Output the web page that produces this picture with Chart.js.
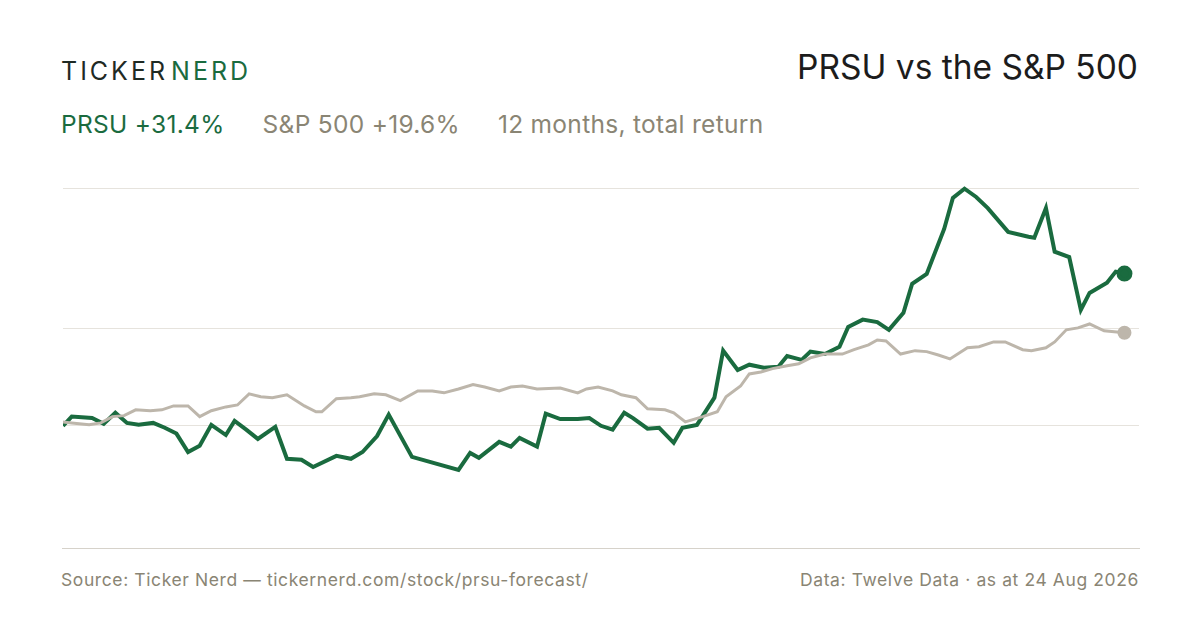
<!DOCTYPE html>
<html><head><meta charset="utf-8">
<script src="https://cdn.jsdelivr.net/npm/chart.js@4"></script>
<style>
body{margin:0;width:1200px;height:630px;background:#fff;font-family:Inter,"Noto Sans",sans-serif;position:relative;overflow:hidden}
.a{position:absolute;white-space:nowrap}
</style></head><body>
<div class="a" style="left:61px;top:56px;font-size:25px;letter-spacing:3px;color:#1f2a24">TICKER <span style="color:#1a6b3f;margin-left:-7px">NERD</span></div>
<div class="a" style="right:62px;top:47px;font-size:33.5px;color:#1c1c1c">PRSU vs the S&amp;P 500</div>
<div class="a" style="left:61px;top:109px;font-size:24.5px;letter-spacing:0.3px;color:#8a8574"><span style="color:#1a6b3f">PRSU +31.4%</span><span style="margin-left:38px">S&amp;P 500 +19.6%</span><span style="margin-left:38px">12 months, total return</span></div>
<div class="a" style="left:62px;top:548px;width:1078px;height:1px;background:#d6d2ca"></div>
<div class="a" style="left:61px;top:569px;font-size:17.5px;letter-spacing:0.6px;color:#8a8574">Source: Ticker Nerd — tickernerd.com/stock/prsu-forecast/</div>
<div class="a" style="right:61px;top:569px;font-size:17.5px;letter-spacing:0.6px;color:#8a8574">Data: Twelve Data · as at 24 Aug 2026</div>
<div class="a" style="left:53px;top:169px;width:1096px;height:389px"><canvas id="c"></canvas></div>
<script>
const prsuDays=[0,3,10,14,18,22,26,31,35,39,43,47,51,56,59,63,67,73,77,82,86,94,99,103,108,112,120,136,140,143,150,154,157,163,166,171,177,181,185,189,193,196,201,205,210,213,218,224,227,232,236,241,246,249,254,257,262,267,270,275,280,284,289,292,297,303,306,310,314,318,325,332,334,338,341,346,350,353,359,362,365];
const prsuVals=[0,1.9,1.6,0.4,2.7,0.6,0.2,0.6,-0.4,-1.6,-5.4,-4.1,0.2,-1.9,1.0,-0.8,-2.7,-0.2,-6.8,-7.0,-8.5,-6.2,-6.8,-5.4,-2.1,2.3,-6.4,-9.1,-5.6,-6.6,-3.3,-4.3,-2.5,-4.3,2.5,1.4,1.4,1.6,0,-0.8,2.7,1.6,-0.6,-0.4,-3.5,-0.4,0.2,5.8,15.5,11.5,12.6,12.0,12.2,14.4,13.6,15.3,14.8,16.3,20.4,21.9,21.4,19.8,23.3,29.3,31.3,40.6,47.0,48.9,47.2,44.9,40.0,39.0,38.8,44.9,35.9,34.8,23.9,27.4,29.5,31.8,31.4];
const spxDays=[0,3,9,13,17,21,25,30,34,38,43,47,51,56,60,64,68,72,77,83,87,89,94,99,102,107,111,116,122,127,131,136,141,145,150,154,158,163,171,177,180,184,189,192,197,201,207,210,214,220,225,228,233,236,240,244,249,253,257,262,268,272,277,280,283,288,293,297,301,305,311,315,320,324,330,333,338,341,345,349,353,358,365];
const spxVals=[0.8,0.6,0.2,0.6,1.9,2.1,3.3,3.1,3.3,4.1,4.1,1.9,3.1,3.9,4.3,6.6,6.0,5.8,6.4,4.1,2.9,2.9,5.6,5.8,6.0,6.6,6.4,5.2,7.2,7.2,6.8,7.6,8.5,8.0,7.2,8.0,8.2,7.6,7.8,6.8,7.6,8.0,7.2,6.4,5.8,3.5,3.3,2.7,0.8,1.9,2.9,6.0,8.2,10.7,11.1,11.8,12.4,12.8,14.0,14.8,14.8,15.7,16.7,17.7,17.5,14.8,15.5,15.3,14.6,13.8,16.1,16.3,17.3,17.3,15.7,15.5,16.1,17.3,19.8,20.2,21.0,19.6,19.2];
const gridVals=[0,20,48.9];
const zip=(d,v)=>d.map((x,i)=>({x,y:v[i]}));
const endR=(n,r)=>ctx=>ctx.dataIndex===n-1?r:0;
new Chart(document.getElementById('c'),{type:'line',
data:{datasets:[
{data:zip(spxDays,spxVals),borderColor:'#bdb6ab',backgroundColor:'#bdb6ab',borderWidth:3,pointRadius:endR(spxDays.length,5.5),tension:0},
{data:zip(prsuDays,prsuVals),borderColor:'#1a6b3f',backgroundColor:'#1a6b3f',borderWidth:4,pointRadius:endR(prsuDays.length,6),tension:0}]},
options:{responsive:true,maintainAspectRatio:false,animation:false,layout:{padding:0},
plugins:{legend:{display:false},tooltip:{enabled:false}},
scales:{x:{type:'linear',min:0,max:370,display:false},
y:{min:-25.2,max:50.9,afterBuildTicks:a=>{a.ticks=gridVals.map(v=>({value:v}))},
grid:{color:'#e6e3dd',drawTicks:false},border:{display:false},ticks:{display:false}}}}});
</script></body></html>
